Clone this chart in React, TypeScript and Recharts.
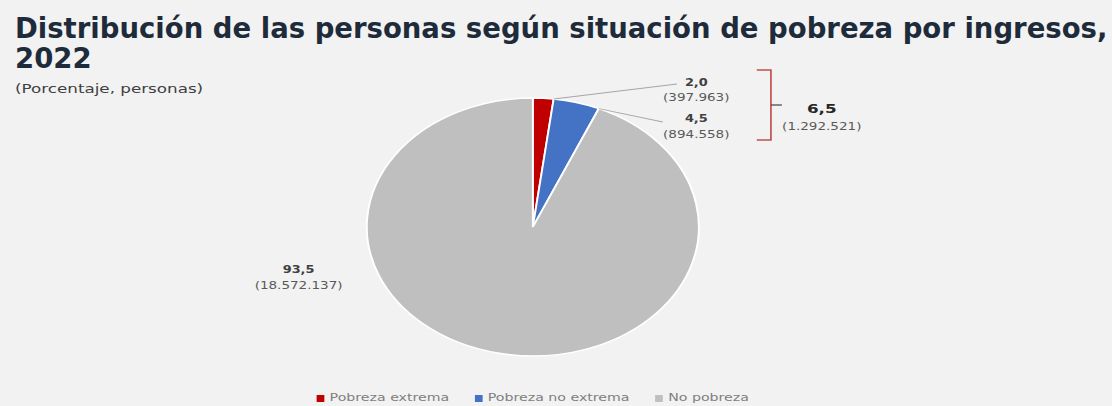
import { PieChart, Pie, Cell, Legend } from 'recharts'

// chart values
const categories = ['Pobreza extrema', 'Pobreza no extrema', 'No pobreza']
const percentages = [2.0, 4.5, 93.5]
const persons = [397963, 894558, 18572137]
const colors = ['#c00000', '#4472c4', '#bfbfbf']

const title = 'Distribución de las personas según situación de pobreza por ingresos,'
const titleYear = '2022'
const subtitle = '(Porcentaje, personas)'

// the reference is horizontally stretched, so the chart is drawn narrower and scaled
const FULL_W = 1112
const H = 406
const W = 864
const SX = FULL_W / W
const CX = 414
const CY = 227
const R = 129
const FONT = '"DejaVu Sans", Verdana, sans-serif'

const data = categories.map((name, i) => ({
  name,
  pct: percentages[i],
  persons: persons[i],
}))

const povertyPct = percentages[0] + percentages[1]
const povertyPersons = persons[0] + persons[1]

const fmtPct = (v: number) => v.toFixed(1).replace('.', ',')
const fmtInt = (n: number) => String(n).replace(/\B(?=(\d{3})+(?!\d))/g, '.')

// label placement relative to the pie centre
const labelLayout = [
  { tx: 127, ty1: -141, ty2: -126, ex: 112, ey: -143 },
  { tx: 127, ty1: -105, ty2: -89, ex: 101, ey: -105 },
  { tx: -182, ty1: 46, ty2: 62, ex: null, ey: null },
]

const RAD = Math.PI / 180

const renderLabel = (props: any) => {
  const { cx, cy, outerRadius, endAngle, midAngle, index, payload } = props
  const lay = labelLayout[index]
  if (!lay) return null
  const pct = payload?.pct ?? percentages[index]
  const cnt = payload?.persons ?? persons[index]
  const ang = endAngle ?? midAngle
  const sx = cx + outerRadius * Math.cos(-ang * RAD)
  const sy = cy + outerRadius * Math.sin(-ang * RAD)
  return (
    <g>
      {lay.ex !== null && (
        <line
          x1={sx}
          y1={sy}
          x2={cx + lay.ex}
          y2={cy + (lay.ey as number)}
          stroke="#a6a6a6"
          strokeWidth={0.9}
        />
      )}
      <text
        x={cx + lay.tx}
        y={cy + lay.ty1}
        textAnchor="middle"
        fontFamily={FONT}
        fontSize={10}
        fontWeight="bold"
        fill="#404040"
      >
        {fmtPct(pct)}
      </text>
      <text
        x={cx + lay.tx}
        y={cy + lay.ty2}
        textAnchor="middle"
        fontFamily={FONT}
        fontSize={10.5}
        fill="#595959"
      >
        ({fmtInt(cnt)})
      </text>
      {index === 1 && (
        <g>
          <path
            d={`M${cx + 174},${cy - 157} H${cx + 185} V${cy - 87} H${cx + 174}`}
            fill="none"
            stroke="#c0504d"
            strokeWidth={1.3}
          />
          <line
            x1={cx + 185}
            y1={cy - 122}
            x2={cx + 193.5}
            y2={cy - 122}
            stroke="#404040"
            strokeWidth={1.2}
          />
          <text
            x={cx + 224.5}
            y={cy - 114}
            textAnchor="middle"
            fontFamily={FONT}
            fontSize={13}
            fontWeight="bold"
            fill="#262626"
          >
            {fmtPct(povertyPct)}
          </text>
          <text
            x={cx + 224.5}
            y={cy - 97}
            textAnchor="middle"
            fontFamily={FONT}
            fontSize={10.5}
            fill="#595959"
          >
            ({fmtInt(povertyPersons)})
          </text>
        </g>
      )}
    </g>
  )
}

const renderLegend = (props: any) => {
  const fromLib: Record<string, string> = {}
  ;(props.payload || []).forEach((p: any) => {
    fromLib[p.value] = p.color
  })
  const items = categories.map((c, i) => ({ value: c, color: fromLib[c] || colors[i] }))
  return (
    <div
      style={{
        display: 'flex',
        justifyContent: 'center',
        alignItems: 'center',
        fontFamily: FONT,
        fontSize: 11,
        lineHeight: '14px',
        color: '#7f7f7f',
      }}
    >
      {items.map((it, i) => (
        <div
          key={it.value}
          style={{ display: 'flex', alignItems: 'center', marginRight: i < items.length - 1 ? 20 : 0 }}
        >
          <span
            style={{ display: 'inline-block', width: 6, height: 7, background: it.color, marginRight: 4 }}
          />
          <span>{it.value}</span>
        </div>
      ))}
    </div>
  )
}

export default function App() {
  return (
    <div
      style={{
        position: 'absolute',
        left: 0,
        top: 0,
        width: FULL_W,
        height: H,
        overflow: 'hidden',
        background: '#f2f2f2',
        fontFamily: FONT,
      }}
    >
      <div
        style={{
          position: 'absolute',
          left: 15,
          top: 12.5,
          fontSize: 27.5,
          lineHeight: '30px',
          fontWeight: 'bold',
          color: '#1e2b3a',
          whiteSpace: 'nowrap',
        }}
      >
        <div>{title}</div>
        <div>{titleYear}</div>
      </div>
      <div
        style={{
          position: 'absolute',
          left: 0,
          top: 0,
          width: W,
          height: H,
          transform: `scaleX(${SX})`,
          transformOrigin: '0 0',
        }}
      >
        <div
          style={{
            position: 'absolute',
            left: 11.7,
            top: 81,
            fontSize: 13,
            lineHeight: '15px',
            color: '#404040',
            whiteSpace: 'nowrap',
          }}
        >
          {subtitle}
        </div>
        <PieChart width={W} height={H} margin={{ top: 0, right: 0, bottom: 0, left: 0 }}>
          <Pie
            data={data}
            dataKey="pct"
            nameKey="name"
            cx={CX}
            cy={CY}
            outerRadius={R}
            startAngle={90}
            endAngle={-270}
            stroke="#ffffff"
            strokeWidth={1.5}
            label={renderLabel}
            labelLine={false}
            isAnimationActive={false}
          >
            {data.map((d, i) => (
              <Cell key={d.name} fill={colors[i]} />
            ))}
          </Pie>
          <Legend
            content={renderLegend}
            wrapperStyle={{ position: 'absolute', top: 391, left: 0, width: CX * 2, height: 14 }}
          />
        </PieChart>
      </div>
    </div>
  )
}
